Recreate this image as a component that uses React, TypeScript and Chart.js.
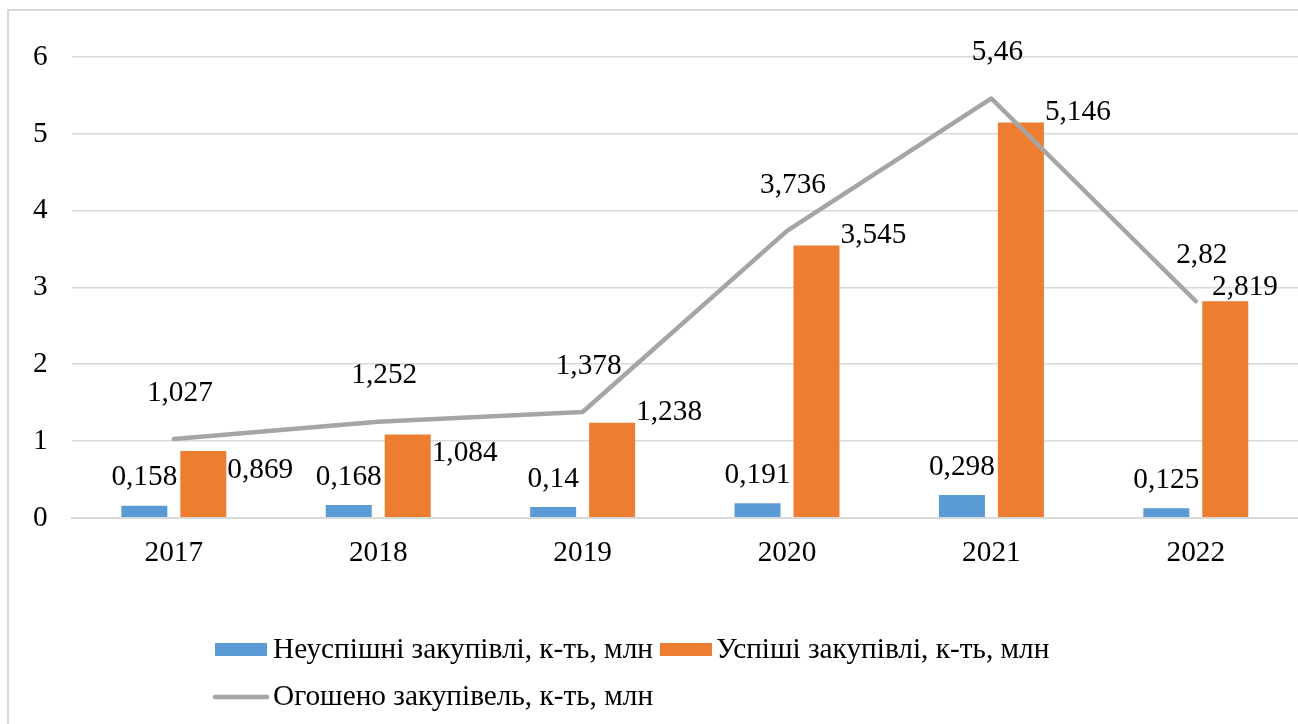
import React, { useEffect, useRef } from "react";
import { Chart, registerables } from "chart.js";

Chart.register(...registerables);

const categories = ["2017", "2018", "2019", "2020", "2021", "2022"];
const failedValues = [0.158, 0.168, 0.14, 0.191, 0.298, 0.125];
const successValues = [0.869, 1.084, 1.238, 3.545, 5.146, 2.819];
const announcedValues = [1.027, 1.252, 1.378, 3.736, 5.46, 2.82];
const seriesNames = [
  "Неуспішні закупівлі, к-ть, млн",
  "Успіші закупівлі, к-ть, млн",
  "Огошено закупівель, к-ть, млн",
];
const yTicks = [0, 1, 2, 3, 4, 5, 6];

const FONT_FAMILY = '"Liberation Serif", "Times New Roman", serif';
const BLUE = "#5B9BD5";
const ORANGE = "#ED7D31";
const GRAY = "#A5A5A5";
const GRID = "#D9D9D9";

const fmt = (v: number) => String(v).replace(".", ",");

function lineYAt(points: any[], x: number): number | null {
  for (let i = 0; i < points.length - 1; i++) {
    const a = points[i];
    const b = points[i + 1];
    if (x >= a.x && x <= b.x) {
      const t = (x - a.x) / (b.x - a.x);
      return a.y + t * (b.y - a.y);
    }
  }
  return null;
}

const decorPlugin = {
  id: "decor",
  beforeDraw(chart: any) {
    const ctx = chart.ctx;
    ctx.save();
    ctx.fillStyle = "#ffffff";
    ctx.fillRect(0, 0, chart.width, chart.height);
    ctx.strokeStyle = GRID;
    ctx.lineWidth = 2;
    ctx.beginPath();
    ctx.moveTo(8, chart.height + 5);
    ctx.lineTo(8, 10);
    ctx.lineTo(chart.width + 5, 10);
    ctx.stroke();
    ctx.restore();
  },
  afterDatasetsDraw(chart: any) {
    const ctx = chart.ctx;
    ctx.save();
    ctx.fillStyle = "#000000";
    ctx.font = `29.3px ${FONT_FAMILY}`;
    ctx.textBaseline = "middle";
    const linePoints = chart.getDatasetMeta(2).data;
    chart.data.datasets.forEach((ds: any, di: number) => {
      const meta = chart.getDatasetMeta(di);
      meta.data.forEach((el: any, i: number) => {
        const v = ds.data[i] as number;
        const txt = fmt(v);
        if (ds.type === "line") {
          ctx.textAlign = "center";
          ctx.fillText(txt, el.x + 6, el.y - 46);
        } else if (di === 0) {
          ctx.textAlign = "center";
          ctx.fillText(txt, el.x, el.y - 28);
        } else {
          ctx.textAlign = "left";
          const w = ctx.measureText(txt).width;
          let tx = el.x + el.width / 2 + 1;
          let ty = el.y - 10;
          const maxRight = chart.width - 20;
          if (tx + w > maxRight) {
            tx = maxRight - w;
            ty = el.y - 14;
          }
          const ly = lineYAt(linePoints, tx + w / 2);
          if (ly !== null && Math.abs(ly - ty) < 22) {
            ty = el.y + 19;
          }
          ctx.fillText(txt, tx, ty);
        }
      });
    });
    ctx.restore();
  },
  afterDraw(chart: any) {
    const ctx = chart.ctx;
    ctx.save();
    ctx.font = `29.3px ${FONT_FAMILY}`;
    ctx.fillStyle = "#000000";
    ctx.textBaseline = "middle";
    ctx.textAlign = "left";
    const row1 = 650;
    const row2 = 697;
    let x = 215;
    ctx.fillStyle = BLUE;
    ctx.fillRect(x, row1 - 7, 52, 13);
    ctx.fillStyle = "#000";
    ctx.fillText(seriesNames[0], x + 58, row1);
    x = x + 58 + ctx.measureText(seriesNames[0]).width + 7;
    ctx.fillStyle = ORANGE;
    ctx.fillRect(x, row1 - 7, 52, 13);
    ctx.fillStyle = "#000";
    ctx.fillText(seriesNames[1], x + 56, row1);
    ctx.strokeStyle = GRAY;
    ctx.lineWidth = 4.5;
    ctx.lineCap = "round";
    ctx.beginPath();
    ctx.moveTo(215, row2);
    ctx.lineTo(267, row2);
    ctx.stroke();
    ctx.fillText(seriesNames[2], 273, row2);
    ctx.restore();
  },
};

export default function App() {
  const canvasRef = useRef<HTMLCanvasElement | null>(null);

  useEffect(() => {
    if (!canvasRef.current) return;
    const chart = new Chart(canvasRef.current, {
      type: "bar",
      data: {
        labels: categories,
        datasets: [
          {
            type: "bar",
            label: seriesNames[0],
            data: failedValues,
            backgroundColor: BLUE,
            categoryPercentage: 0.577,
            barPercentage: 0.78,
            order: 1,
          },
          {
            type: "bar",
            label: seriesNames[1],
            data: successValues,
            backgroundColor: ORANGE,
            categoryPercentage: 0.577,
            barPercentage: 0.78,
            order: 1,
          },
          {
            type: "line",
            label: seriesNames[2],
            data: announcedValues,
            borderColor: GRAY,
            backgroundColor: GRAY,
            borderWidth: 4.5,
            pointRadius: 0,
            tension: 0,
            borderCapStyle: "round",
            borderJoinStyle: "round",
            order: 0,
          } as any,
        ],
      },
      options: {
        responsive: false,
        animation: false,
        devicePixelRatio: 1,
        layout: { padding: { left: 9, right: 0, top: 57, bottom: 135 } },
        plugins: {
          legend: { display: false },
          tooltip: { enabled: false },
        },
        scales: {
          x: {
            grid: { display: false, drawTicks: false },
            border: { display: true, color: GRID, width: 2 },
            ticks: {
              color: "#000",
              font: { family: FONT_FAMILY, size: 29.3 },
              padding: 18,
            },
          },
          y: {
            min: 0,
            max: 6,
            afterBuildTicks: (scale: any) => {
              scale.ticks = yTicks.map((v) => ({ value: v }));
            },
            grid: { color: GRID, lineWidth: 1.5, drawTicks: false },
            border: { display: false },
            ticks: {
              color: "#000",
              font: { family: FONT_FAMILY, size: 29.3 },
              padding: 24,
            },
          },
        },
      },
      plugins: [decorPlugin],
    });
    return () => chart.destroy();
  }, []);

  return (
    <div style={{ position: "fixed", left: 0, top: 0, width: 1298, height: 724, overflow: "hidden", background: "#fff" }}>
      <canvas ref={canvasRef} width={1298} height={724} style={{ display: "block" }} />
    </div>
  );
}
